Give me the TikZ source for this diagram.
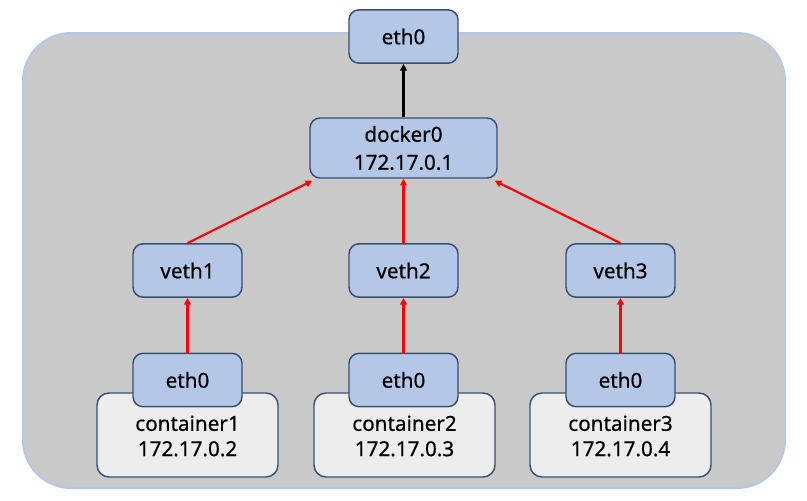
\documentclass[tikz,border=0pt]{standalone}
\usepackage{fontspec}
\setmainfont{Noto Sans}[FakeBold=0.6]
\usetikzlibrary{arrows.meta}
\definecolor{boxblue}{HTML}{B4C7E7}
\definecolor{boxedge}{HTML}{3A5070}
\definecolor{outerfill}{HTML}{C9C9C9}
\definecolor{outeredge}{HTML}{B4C7E7}
\definecolor{contfill}{HTML}{EDEDED}
\tikzset{
  ifbox/.style={draw=boxedge, fill=boxblue, line width=1.1pt, rounded corners=7.5pt,
    minimum width=81.75pt, minimum height=40pt, inner sep=0pt, align=center,
    font=\fontsize{15.5}{21}\selectfont\bfseries},
  contbox/.style={draw=boxedge, fill=contfill, line width=1.1pt, rounded corners=9pt,
    minimum width=135.75pt, minimum height=63pt, inner sep=0pt, align=center,
    font=\fontsize{15.5}{19}\selectfont\bfseries},
  redarr/.style={draw=red, line width=1.6pt, -{Triangle[length=5pt,width=5pt]}},
  blkarr/.style={draw=black, line width=1.6pt, -{Triangle[length=5pt,width=5pt]}}
}
\begin{document}
\begin{tikzpicture}[x=0.75pt,y=-0.75pt]
\useasboundingbox (0,0) rectangle (807,500);
\draw[fill=outerfill, draw=outeredge, line width=1.5pt, rounded corners=36pt] (23,33) rectangle (785,488);
% containers
\node[contbox] (c1) at (187.5,435) {};
\node[contbox] (c2) at (404.5,435) {};
\node[contbox] (c3) at (620.5,435) {};
\node[font=\fontsize{15.5}{19}\selectfont\bfseries, align=center, inner sep=0pt] (t1) at (187.5,436) {container1\\172.17.0.2};
\node[font=\fontsize{15.5}{19}\selectfont\bfseries, align=center, inner sep=0pt] (t2) at (404.5,436) {container2\\172.17.0.3};
\node[font=\fontsize{15.5}{19}\selectfont\bfseries, align=center, inner sep=0pt] (t3) at (620.5,436) {container3\\172.17.0.4};
% interface boxes
\node[ifbox] (top) at (403.5,36.5) {eth0};
\node[ifbox, minimum width=140.25pt, minimum height=45pt] (d0) at (403.5,148) {docker0\\172.17.0.1};
\node[ifbox] (v1) at (187.5,270.5) {veth1};
\node[ifbox] (v2) at (403.5,270.5) {veth2};
\node[ifbox] (v3) at (620.5,270.5) {veth3};
\node[ifbox] (e1) at (187.5,380) {eth0};
\node[ifbox] (e2) at (403.5,380) {eth0};
\node[ifbox] (e3) at (620.5,380) {eth0};
% arrows
\draw[blkarr] (d0.north) -- (top.south);
\draw[redarr] (v1.north) -- ([shift={(3,2)}]d0.south west);
\draw[redarr] (v2.north) -- (d0.south);
\draw[redarr] (v3.north) -- ([shift={(-3,2)}]d0.south east);
\draw[redarr] (e1.north) -- (v1.south);
\draw[redarr] (e2.north) -- (v2.south);
\draw[redarr] (e3.north) -- (v3.south);
\end{tikzpicture}
\end{document}
